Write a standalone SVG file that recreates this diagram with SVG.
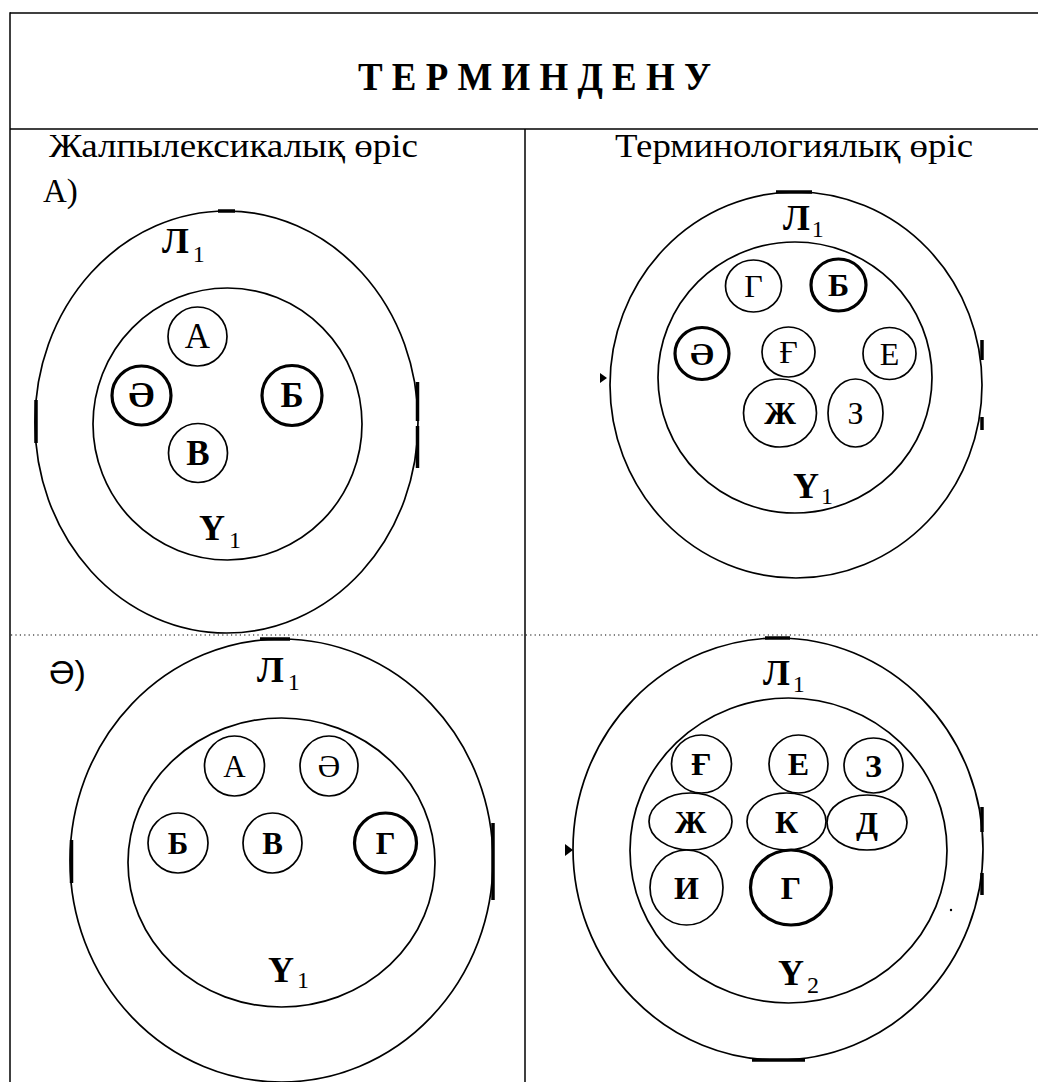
<svg xmlns="http://www.w3.org/2000/svg" width="1038" height="1082" viewBox="0 0 1038 1082">
<style>
.bg{fill:#fff}
.ln{stroke:#000;stroke-width:1.5;fill:none}
.dot{stroke:#000;stroke-width:1.2;stroke-dasharray:1.2 3.2;fill:none}
.c{fill:none;stroke:#000;stroke-width:1.7}
.ct{fill:none;stroke:#000;stroke-width:3.2}
.tick{stroke:#000;stroke-width:3.5;fill:none}
.hd{font-family:"Liberation Serif","DejaVu Serif",serif;font-size:33px;fill:#000}
.ttl{font-family:"Liberation Serif","DejaVu Serif",serif;font-size:39px;font-weight:bold;fill:#000}
.lt{font-family:"Liberation Serif","DejaVu Serif",serif;font-weight:bold;text-anchor:middle;fill:#000}
.ltn{font-family:"Liberation Serif","DejaVu Serif",serif;font-weight:normal;text-anchor:middle;fill:#000}
.lb{font-family:"Liberation Serif","DejaVu Serif",serif;font-weight:bold;font-size:36px;fill:#000}
.sub{font-size:24px;font-weight:normal}
.s1{font-size:35px}
.s2{font-size:32px}
.s3{font-size:31px}
</style>
<rect class="bg" x="0" y="0" width="1038" height="1082"/>

<g id="table">
<line class="ln" x1="10" y1="13" x2="1038" y2="13"/>
<line class="ln" x1="10" y1="129" x2="1038" y2="129"/>
<line class="ln" x1="10" y1="12.3" x2="10" y2="1082"/>
<line class="ln" x1="525" y1="129" x2="525" y2="1082"/>
<line class="dot" x1="11" y1="635" x2="1038" y2="635"/>
<text class="ttl" x="358" y="90" textLength="353" lengthAdjust="spacingAndGlyphs">Т Е Р М И Н Д Е Н У</text>
<text class="hd" x="49" y="157" textLength="369" lengthAdjust="spacingAndGlyphs">Жалпылексикалық өріс</text>
<text class="hd" x="615" y="157" textLength="358" lengthAdjust="spacingAndGlyphs">Терминологиялық өріс</text>
<text class="hd" x="43" y="202">А)</text>
<text x="49" y="684" style="font-family:'Liberation Sans','DejaVu Sans',sans-serif;font-size:34px;fill:#000">Ә)</text>
</g>

<g id="connectors"></g>

<!-- Top-left: general lexical field A) -->
<g id="tl-L1">
<ellipse class="c" cx="226.5" cy="422" rx="191.5" ry="211"/>
<line class="tick" x1="417.5" y1="382" x2="417.5" y2="421"/>
<line class="tick" x1="417.5" y1="426" x2="417.5" y2="468"/>
<line class="tick" x1="36" y1="400" x2="36" y2="443"/>
<line class="tick" x1="218" y1="211" x2="235" y2="211"/>
<text class="lb" x="162" y="253">Л<tspan class="sub" dx="4" dy="9">1</tspan></text>
</g>
<g id="tl-U1">
<ellipse class="c" cx="227.5" cy="424" rx="134.5" ry="136"/>
<text class="lb" x="199" y="540">Ү<tspan class="sub" dx="4" dy="8">1</tspan></text>
</g>
<g id="tl-A"><circle class="c" cx="197.5" cy="336.5" r="29.5"/><text class="ltn s1" x="197.5" y="348">А</text></g>
<g id="tl-AE"><circle class="ct" cx="141.5" cy="395.5" r="29.5"/><text class="lt s1" x="141.5" y="407">Ә</text></g>
<g id="tl-B"><circle class="ct" cx="292" cy="395.5" r="30"/><text class="lt s1" x="292" y="407">Б</text></g>
<g id="tl-V"><circle class="c" cx="198" cy="453" r="29.5"/><text class="lt s1" x="198" y="465">В</text></g>

<!-- Top-right: terminological field -->
<g id="tr-L1">
<ellipse class="c" cx="796" cy="385" rx="186" ry="193"/>
<line class="tick" x1="982" y1="340" x2="982" y2="360"/>
<line class="tick" x1="982" y1="417" x2="982" y2="430"/>
<path d="M600 373 L607 378 L600 383 Z" fill="#000"/>
<line class="tick" x1="776" y1="192" x2="812" y2="192"/>
<text class="lb" x="783" y="230">Л<tspan class="sub" dx="2" dy="7">1</tspan></text>
</g>
<g id="tr-U1">
<ellipse class="c" cx="795" cy="377.5" rx="137" ry="135.5"/>
<text class="lb" x="793" y="498">Ү<tspan class="sub" dx="2" dy="6">1</tspan></text>
</g>
<g id="tr-G"><ellipse class="c" cx="753.5" cy="286" rx="28" ry="26"/><text class="ltn s2" x="753.5" y="297">Г</text></g>
<g id="tr-B"><ellipse class="ct" cx="838.5" cy="285" rx="27.5" ry="26"/><text class="lt s2" x="838.5" y="296">Б</text></g>
<g id="tr-AE"><ellipse class="ct" cx="702" cy="353.5" rx="27" ry="26"/><text class="lt s2" x="702" y="364.5">Ә</text></g>
<g id="tr-GH"><ellipse class="c" cx="788.5" cy="352" rx="26.5" ry="25"/><text class="ltn s2" x="788.5" y="363">Ғ</text></g>
<g id="tr-E"><ellipse class="c" cx="889.5" cy="353.5" rx="26.5" ry="26"/><text class="ltn s2" x="889.5" y="364.5">Е</text></g>
<g id="tr-ZH"><ellipse class="c" cx="780" cy="413" rx="36.5" ry="34"/><text class="lt s2" x="780" y="424">Ж</text></g>
<g id="tr-Z"><ellipse class="c" cx="855.5" cy="413" rx="27.5" ry="34"/><text class="ltn s2" x="855.5" y="424">З</text></g>

<!-- Bottom-left: general lexical field Ә) -->
<g id="bl-L1">
<ellipse class="c" cx="281.5" cy="860.5" rx="211.5" ry="221.5"/>
<line class="tick" x1="493" y1="823" x2="493" y2="900"/>
<line class="tick" x1="71.5" y1="840" x2="71.5" y2="883"/>
<line class="tick" x1="260" y1="639" x2="290" y2="639"/>
<text class="lb" x="257" y="682">Л<tspan class="sub" dx="4" dy="8">1</tspan></text>
</g>
<g id="bl-U1">
<ellipse class="c" cx="281.5" cy="862.5" rx="153.5" ry="144.5"/>
<text class="lb" x="268" y="982">Ү<tspan class="sub" dx="3" dy="6">1</tspan></text>
</g>
<g id="bl-A"><ellipse class="c" cx="234.5" cy="766" rx="30" ry="30"/><text class="ltn s3" x="234.5" y="776.5">А</text></g>
<g id="bl-AE"><ellipse class="c" cx="329" cy="766" rx="29" ry="30"/><text class="ltn s3" x="329" y="776.5">Ә</text></g>
<g id="bl-B"><ellipse class="c" cx="178" cy="843" rx="30" ry="30"/><text class="lt s3" x="178" y="853.5">Б</text></g>
<g id="bl-V"><ellipse class="c" cx="272.5" cy="843" rx="29.5" ry="30"/><text class="lt s3" x="272.5" y="853.5">В</text></g>
<g id="bl-G"><ellipse class="ct" cx="385.5" cy="843" rx="31" ry="30"/><text class="lt s3" x="385.5" y="853.5">Г</text></g>

<!-- Bottom-right: terminological field -->
<g id="br-L1">
<ellipse class="c" cx="778" cy="849" rx="205" ry="211"/>
<line class="tick" x1="982" y1="807" x2="982" y2="832"/>
<line class="tick" x1="982" y1="873" x2="982" y2="895"/>
<path d="M565 844 L573 850 L565 856 Z" fill="#000"/>
<circle cx="951" cy="910" r="1.2" fill="#000"/>
<line class="tick" x1="765" y1="638" x2="790" y2="638"/>
<line class="tick" x1="752" y1="1060" x2="805" y2="1060"/>
<text class="lb" x="763" y="685">Л<tspan class="sub" dx="3" dy="7">1</tspan></text>
</g>
<g id="br-U2">
<ellipse class="c" cx="788.5" cy="850.5" rx="158.5" ry="152.5"/>
<text class="lb" x="778" y="985">Ү<tspan class="sub" dx="3" dy="8">2</tspan></text>
</g>
<g id="br-GH"><ellipse class="c" cx="701.5" cy="764" rx="30" ry="29"/><text class="lt s2" x="701.5" y="775">Ғ</text></g>
<g id="br-E"><ellipse class="c" cx="798.5" cy="764" rx="29.5" ry="29"/><text class="lt s2" x="798.5" y="775">Е</text></g>
<g id="br-Z"><ellipse class="c" cx="873.5" cy="765.5" rx="29.5" ry="27.5"/><text class="lt s2" x="873.5" y="776.5">З</text></g>
<g id="br-ZH"><ellipse class="c" cx="690.5" cy="821.5" rx="41.5" ry="28.5"/><text class="lt s2" x="690.5" y="832.5">Ж</text></g>
<g id="br-K"><ellipse class="c" cx="786.5" cy="821.5" rx="39.5" ry="28.5"/><text class="lt s2" x="786.5" y="832.5">К</text></g>
<g id="br-D"><ellipse class="c" cx="867" cy="822.5" rx="40" ry="27.5"/><text class="lt s2" x="867" y="833.5">Д</text></g>
<g id="br-I"><ellipse class="c" cx="686.5" cy="887.5" rx="36.5" ry="37.5"/><text class="lt s2" x="686.5" y="898.5">И</text></g>
<g id="br-G"><ellipse class="ct" cx="791" cy="887.5" rx="40.5" ry="37.5"/><text class="lt s2" x="791" y="898.5">Г</text></g>
</svg>
